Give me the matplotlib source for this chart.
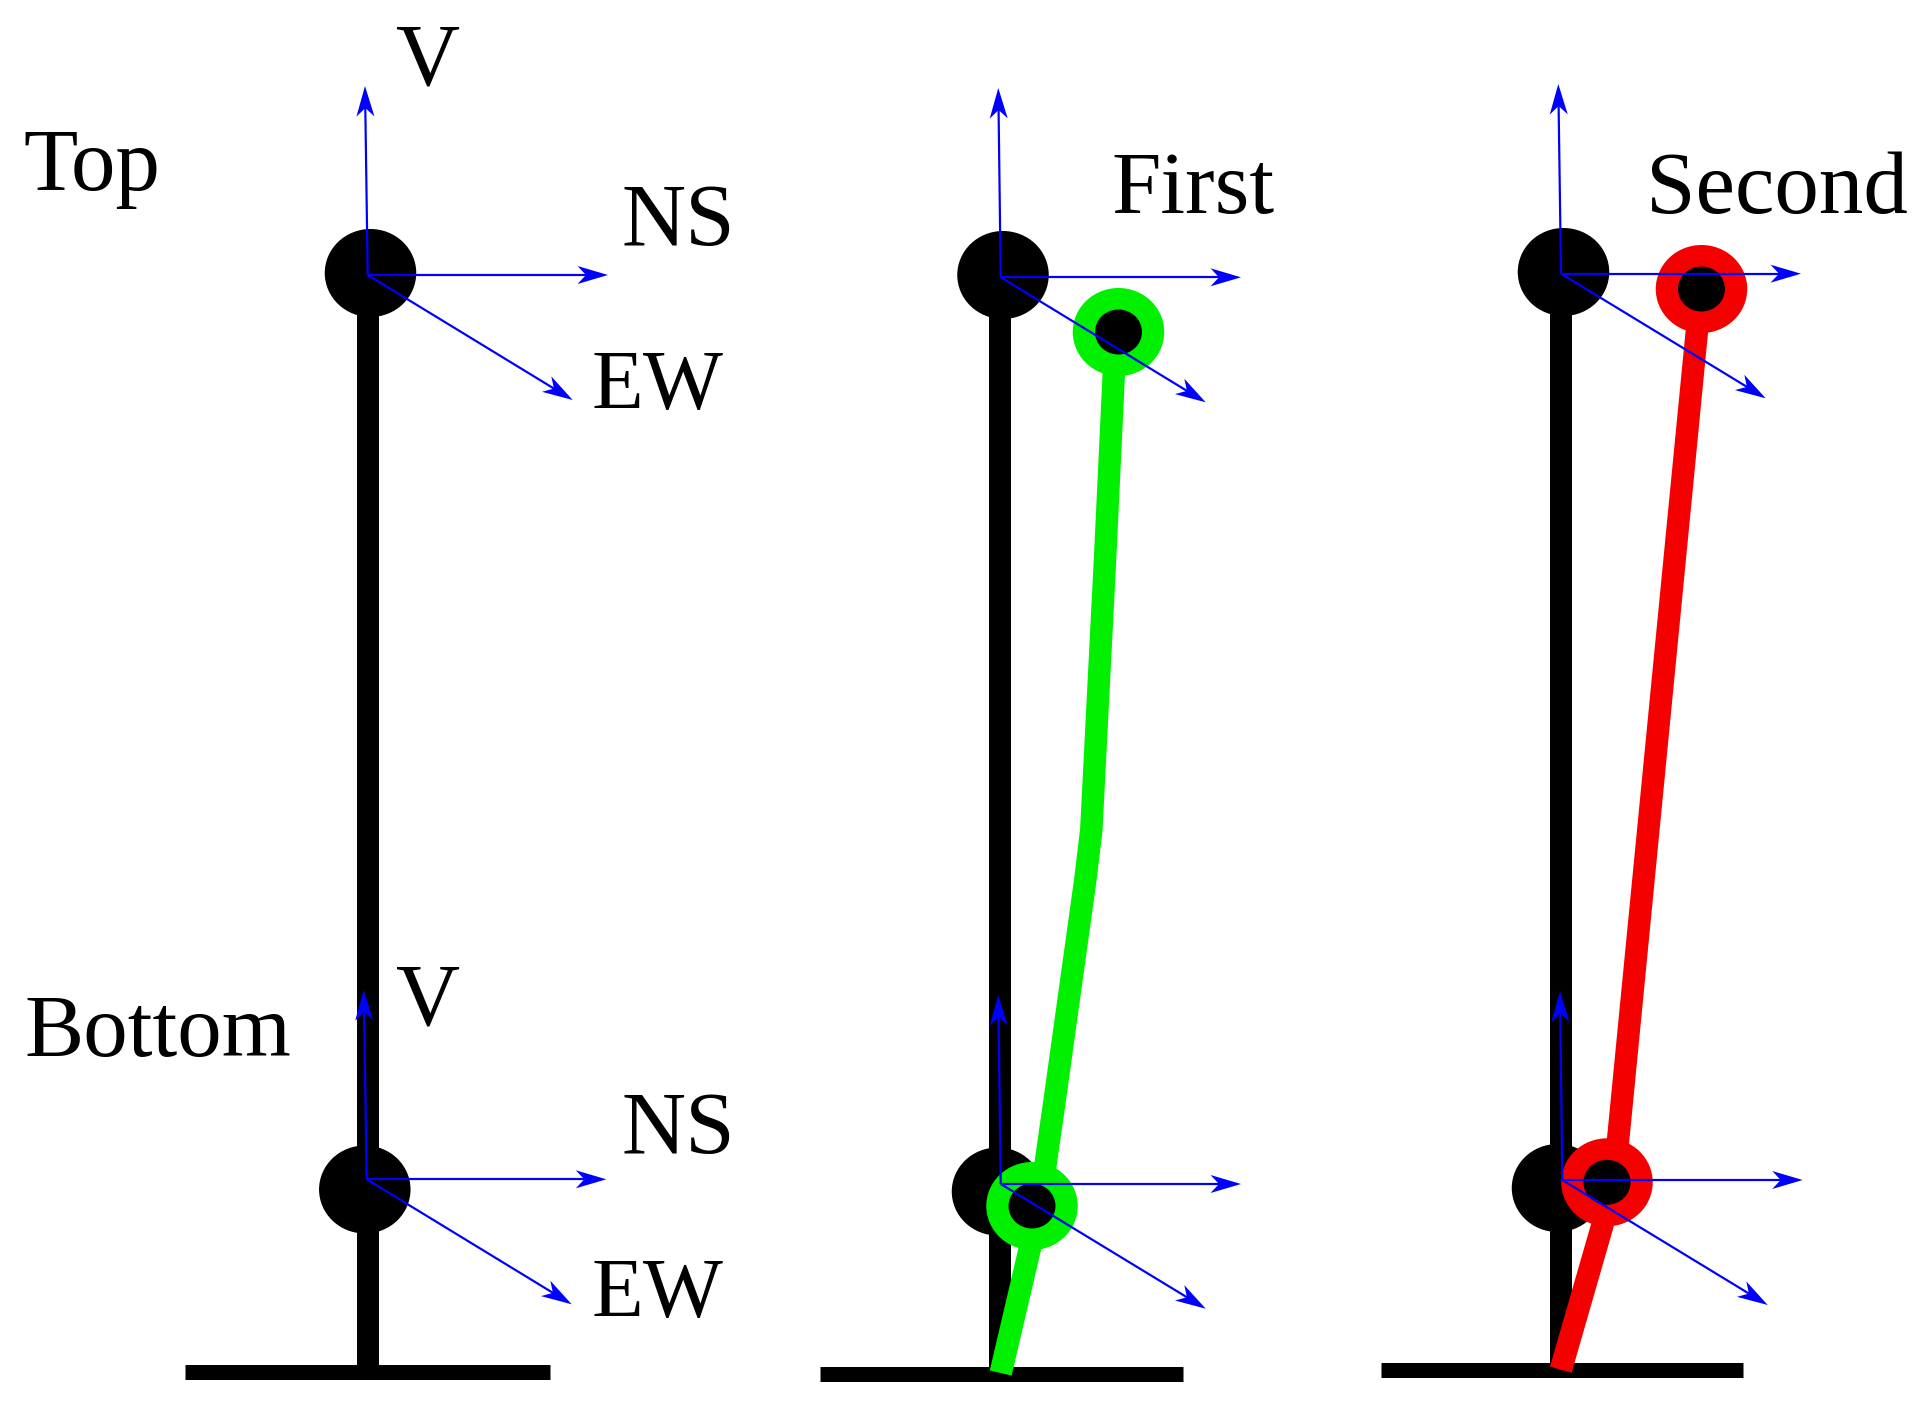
import numpy as np
import matplotlib.pyplot as plt
from matplotlib.patches import Ellipse

# everything, in reference pixels
ground_x = [[185, 550], [820, 1183], [1381, 1743]]
ground_y = [1371.5, 1373.5, 1370]

column_x = [368, 1000.3, 1561]
column_top = [275, 277, 272]

joint_x = [[370.5, 364.8], [1003, 997.5], [1563.5, 1557.5]]
joint_y = [[273, 1189.5], [275, 1191.5], [272, 1188]]

origin_x = [[367.7, 366.7], [1000.7, 1000.7], [1561, 1562.3]]
origin_y = [[275, 1179.3], [277.3, 1184], [273.7, 1180]]
v_tip_x = [[365, 363.7], [998.3, 998.3], [1558.3, 1560]]
v_tip_y = [[86, 990], [88, 995], [84, 991.3]]
ns_tip_x = [[608, 606.3], [1241, 1241], [1801, 1802.7]]
ns_tip_y = [[275, 1179.3], [277.3, 1184], [273.7, 1180]]
ew_tip_x = [[572.7, 571.7], [1205.7, 1205.7], [1765.7, 1767.7]]
ew_tip_y = [[400, 1304.3], [402.3, 1308.7], [398.3, 1305]]

green_upper_x = [1044, 1054.7, 1085.3, 1091.3, 1105, 1113.7, 1115]
green_upper_y = [1175, 1100, 880, 830, 560, 376, 340]
green_lower_x = [1000.7, 1029.5, 1033]
green_lower_y = [1373, 1250, 1235]
green_joint_x = [1118.5, 1032]
green_joint_y = [332, 1206]

red_upper_x = [1614, 1701]
red_upper_y = [1182, 289]
red_lower_x = [1560.8, 1602, 1607]
red_lower_y = [1369.7, 1226.7, 1205]
red_joint_x = [1701.5, 1607]
red_joint_y = [289, 1182.3]

labels = ['V', 'NS', 'EW', 'V', 'NS', 'EW', 'Top', 'Bottom', 'First', 'Second']
label_x = [396, 622, 592, 396, 622, 592, 23, 24, 1111, 1646]
label_y = [85, 245, 409, 1025, 1153, 1317, 190, 1056, 213, 213]

fig = plt.figure(figsize=(19.3, 14.04), dpi=100)
ax = fig.add_axes([0, 0, 1, 1])
ax.set_xlim(0, 1930)
ax.set_ylim(1404, 0)
ax.axis('off')

LW = 72 / 100  # px to pt
BLUE = '#0000ff'
GREEN = '#00f000'
RED = '#f50000'


def arrow(x0, y0, x1, y1):
    # notched head like the original, worked out from the shaft direction
    d = np.array([x1 - x0, y1 - y0], dtype=float)
    d /= np.hypot(*d)
    n = np.array([-d[1], d[0]])
    tip = np.array([x1, y1])
    notch = tip - 22 * d
    left = tip - 30.5 * d + 9 * n
    right = tip - 30.5 * d - 9 * n
    ax.plot([x0, notch[0]], [y0, notch[1]], color=BLUE, lw=2.2 * LW, solid_capstyle='butt', zorder=5)
    ax.fill([tip[0], left[0], notch[0], right[0]], [tip[1], left[1], notch[1], right[1]],
            color=BLUE, lw=0, zorder=5)


def ring(x, y, color):
    ax.add_patch(Ellipse((x, y), 91.5, 88, color=color, lw=0, zorder=4))
    ax.add_patch(Ellipse((x, y), 47, 45, color='black', lw=0, zorder=4))


for i in range(3):
    ax.plot(ground_x[i], [ground_y[i]] * 2, color='black', lw=15 * LW, solid_capstyle='butt')
    ax.plot([column_x[i]] * 2, [ground_y[i], column_top[i]], color='black', lw=22 * LW, solid_capstyle='butt')
    for j in range(2):
        ax.add_patch(Ellipse((joint_x[i][j], joint_y[i][j]), 91.5, 88, color='black', lw=0))

for xs, ys, c in [(green_upper_x, green_upper_y, GREEN), (green_lower_x, green_lower_y, GREEN),
                  (red_upper_x, red_upper_y, RED), (red_lower_x, red_lower_y, RED)]:
    ax.plot(xs, ys, color=c, lw=22.5 * LW, solid_capstyle='butt', solid_joinstyle='miter', zorder=3)

for j in range(2):
    ring(green_joint_x[j], green_joint_y[j], GREEN)
    ring(red_joint_x[j], red_joint_y[j], RED)

for i in range(3):
    for j in range(2):
        arrow(origin_x[i][j], origin_y[i][j], v_tip_x[i][j], v_tip_y[i][j])
        arrow(origin_x[i][j], origin_y[i][j], ns_tip_x[i][j], ns_tip_y[i][j])
        arrow(origin_x[i][j], origin_y[i][j], ew_tip_x[i][j], ew_tip_y[i][j])

for s, x, y in zip(labels, label_x, label_y):
    size = 61 if s == 'EW' else 64
    ax.text(x, y, s, fontsize=size, family='Liberation Serif', ha='left', va='baseline', color='black')

fig.savefig('out.png', dpi=100)
